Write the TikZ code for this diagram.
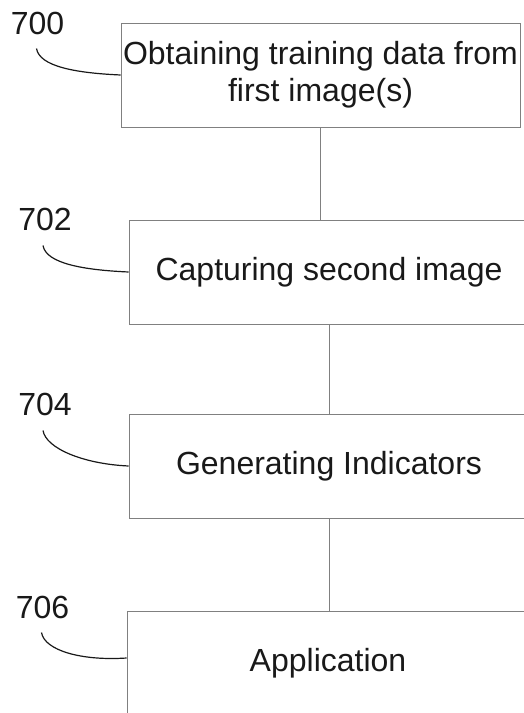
\documentclass[tikz,border=0pt]{standalone}
\usepackage{fontspec}
\setmainfont{Liberation Sans}
\begin{document}
\begin{tikzpicture}[x=1bp,y=-1bp,
  stepbox/.style={draw=black!50, line width=0.7bp, inner sep=0pt, align=center,
    font=\fontsize{32bp}{37bp}\selectfont, text=black!90},
  reflabel/.style={anchor=base, inner sep=0pt, font=\fontsize{32bp}{37bp}\selectfont, text=black!90},
  flow/.style={draw=black!50, line width=0.6bp},
  leader/.style={draw=black!90, line width=1.2bp}]
\useasboundingbox (0,0) rectangle (524,713);
\clip (0,0) rectangle (524,713);

% process steps
\node[stepbox, minimum width=399bp, minimum height=104bp] (b700) at (320.5,75)
  {Obtaining training data from\\first image(s)};
\node[stepbox, minimum width=400bp, minimum height=104bp] (b702) at (329,272)
  {Capturing second image};
\node[stepbox, minimum width=400bp, minimum height=104bp] (b704) at (329,466)
  {Generating Indicators};
\node[stepbox, minimum width=402bp, minimum height=104bp] (b706) at (328,663)
  {Application};

% flow between steps
\draw[flow] (b700.south) -- (b700.south |- b702.north);
\draw[flow] (b702.south) -- (b702.south |- b704.north);
\draw[flow] (b704.south) -- (b704.south |- b706.north);

% reference numerals
\node[reflabel] (l700) at (37.5,35) {700};
\node[reflabel] (l702) at (45,230) {702};
\node[reflabel] (l704) at (45,415) {704};
\node[reflabel] (l706) at (42.5,618) {706};

\coordinate (s700) at ([shift={(-1,13)}]l700.south);
\coordinate (s702) at ([shift={(-2,15)}]l702.south);
\coordinate (s704) at ([shift={(-2,15)}]l704.south);
\coordinate (s706) at ([shift={(-1,14)}]l706.south);

% leader lines
\draw[leader] (s700) .. controls ([shift={(3,18)}]s700) and ([shift={(-45,-2)}]b700.west) .. (b700.west);
\draw[leader] (s702) .. controls ([shift={(3,18)}]s702) and ([shift={(-45,-2)}]b702.west) .. (b702.west);
\draw[leader] (s704) .. controls ([shift={(3,18)}]s704) and ([shift={(-45,-2)}]b704.west) .. (b704.west);
\draw[leader] (s706) .. controls ([shift={(3,18)}]s706) and ([shift={(-45,-2)}]b706.west) .. (b706.west |- 0,658);
\end{tikzpicture}
\end{document}
